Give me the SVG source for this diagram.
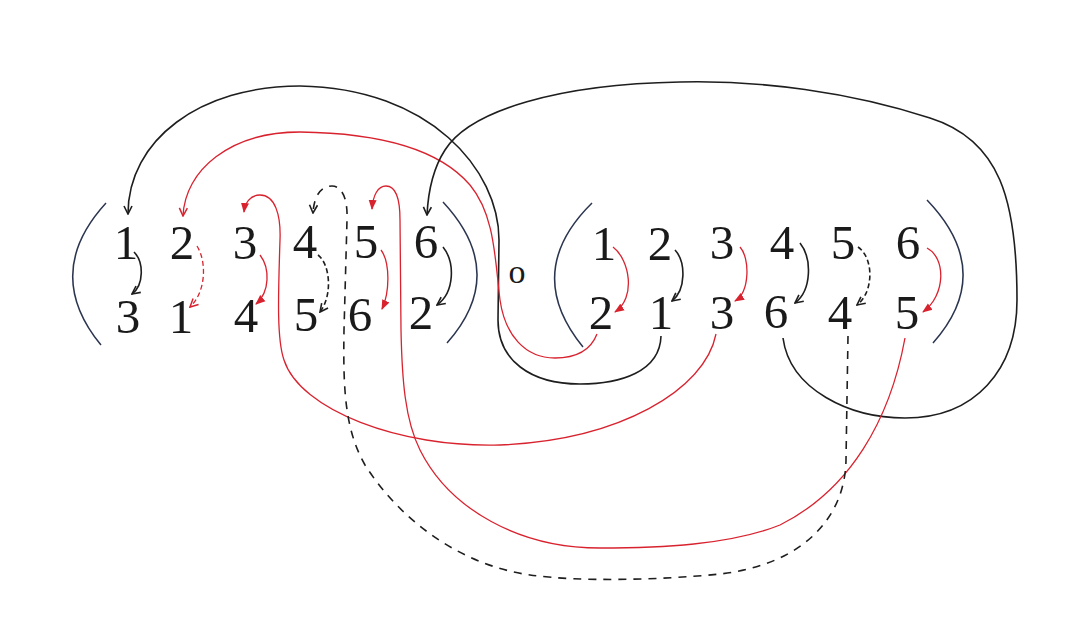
<svg xmlns="http://www.w3.org/2000/svg" width="1071" height="633" viewBox="0 0 1071 633">
<style>
.d{font-family:"Liberation Serif","Times New Roman",serif;font-size:49px;fill:#1a1a1a;text-anchor:middle}
.o{font-family:"Liberation Serif","Times New Roman",serif;font-size:34px;fill:#1a1a1a;text-anchor:middle}
.k{fill:none;stroke:#1e1e1e;stroke-width:1.6}
.r{fill:none;stroke:#d8232f;stroke-width:1.3}
.sd{stroke-dasharray:5 3}
.p{fill:none;stroke:#2b3550;stroke-width:1.5}
</style>
<defs>
<marker id="ak" viewBox="0 0 10 10" refX="9" refY="5" markerWidth="10" markerHeight="10" markerUnits="userSpaceOnUse" orient="auto"><path d="M1,1 L9,5 L1,9" fill="none" stroke="#1e1e1e" stroke-width="1.6"/></marker>
<marker id="aro" viewBox="0 0 10 10" refX="9" refY="5" markerWidth="10" markerHeight="10" markerUnits="userSpaceOnUse" orient="auto"><path d="M1,1 L9,5 L1,9" fill="none" stroke="#d8232f" stroke-width="1.5"/></marker>
<marker id="ar" viewBox="0 0 10 10" refX="9" refY="5" markerWidth="10" markerHeight="10" markerUnits="userSpaceOnUse" orient="auto"><path d="M0,1 L10,5 L0,9 Z" fill="#d8232f"/></marker>
</defs>
<rect width="1071" height="633" fill="#ffffff"/>
<g id="parens">
<path class="p" d="M106,203 Q42,273 101,345"/>
<path class="p" d="M443,202 Q509,273 447,343"/>
<path class="p" d="M592,203 Q522,272 583,347"/>
<path class="p" d="M927,200 Q996,272 933,343"/>
</g>
<g id="left-top">
<g id="L1"><text class="d" x="126" y="259">1</text></g>
<g id="L2"><text class="d" x="182" y="259">2</text></g>
<g id="L3"><text class="d" x="245" y="259">3</text></g>
<g id="L4"><text class="d" x="305" y="258">4</text></g>
<g id="L5"><text class="d" x="366" y="258">5</text></g>
<g id="L6"><text class="d" x="426" y="258">6</text></g>
</g>
<g id="left-bottom">
<g id="LB3"><text class="d" x="128" y="333">3</text></g>
<g id="LB1"><text class="d" x="181" y="333">1</text></g>
<g id="LB4"><text class="d" x="246" y="332">4</text></g>
<g id="LB5"><text class="d" x="306" y="331">5</text></g>
<g id="LB6"><text class="d" x="360" y="331">6</text></g>
<g id="LB2"><text class="d" x="421" y="329">2</text></g>
</g>
<g id="compose"><text class="o" x="517" y="283">o</text></g>
<g id="right-top">
<g id="R1"><text class="d" x="604" y="260">1</text></g>
<g id="R2"><text class="d" x="660" y="260">2</text></g>
<g id="R3"><text class="d" x="722" y="259">3</text></g>
<g id="R4"><text class="d" x="782" y="259">4</text></g>
<g id="R5"><text class="d" x="843" y="259">5</text></g>
<g id="R6"><text class="d" x="908" y="259">6</text></g>
</g>
<g id="right-bottom">
<g id="RB2"><text class="d" x="601" y="329">2</text></g>
<g id="RB1"><text class="d" x="661" y="329">1</text></g>
<g id="RB3"><text class="d" x="722" y="329">3</text></g>
<g id="RB6"><text class="d" x="776" y="328">6</text></g>
<g id="RB4"><text class="d" x="840" y="329">4</text></g>
<g id="RB5"><text class="d" x="907" y="329">5</text></g>
</g>
<g id="connectors">
<path class="k" d="M134,252 C144,262 144,285 132,294" marker-end="url(#ak)"/>
<path class="r sd" d="M197,246 C207,262 206,292 190,307" marker-end="url(#aro)"/>
<path class="r" d="M260,255 C270,268 270,292 256,304" marker-end="url(#ar)"/>
<path class="k sd" d="M318,255 C330,264 333,295 320,312" marker-end="url(#ak)"/>
<path class="r" d="M381,250 C390,262 390,292 382,309" marker-end="url(#ar)"/>
<path class="k" d="M443,247 C455,262 455,292 437,305" marker-end="url(#ak)"/>
<path class="r" d="M613,247 C630,260 636,298 615,312" marker-end="url(#ar)"/>
<path class="k" d="M675,250 C686,262 686,290 672,301" marker-end="url(#ak)"/>
<path class="r" d="M740,247 C750,258 750,292 735,301" marker-end="url(#ar)"/>
<path class="k" d="M800,243 C812,258 812,290 795,303" marker-end="url(#ak)"/>
<path class="k sd" d="M858,247 C874,258 874,292 857,305" marker-end="url(#ak)"/>
<path class="r" d="M927,248 C946,258 946,295 923,312" marker-end="url(#ar)"/>
<path class="k" d="M661,336 C660,372 620,384 580,384 C530,384 498,360 498,320 L499,240 C499,170 430,88 300,86 C200,86 128,140 128,214" marker-end="url(#ak)"/>
<path class="r" d="M597,334 C590,352 575,358 555,358 C525,358 505,335 500,300 C495,260 495,215 470,185 C440,150 380,133 300,132 C230,132 185,170 183,216" marker-end="url(#aro)"/>
<path class="k" d="M783,338 C790,390 850,418 905,418 C975,418 1017,370 1017,300 C1017,200 1000,140 930,118 C850,92 760,80 680,82 C560,84 470,110 445,150 C432,170 428,195 427,215" marker-end="url(#ak)"/>
<path class="r" d="M716,334 C705,390 620,440 500,445 C400,448 300,410 284,360 C277,340 278,300 280,240 C281,215 275,195 260,195 C250,195 245,203 244,212" marker-end="url(#ar)"/>
<path class="r" d="M905,338 C890,420 850,490 780,525 C730,545 660,548 600,548 C520,548 450,510 420,450 C405,420 402,380 401,330 L400,220 C400,198 395,186 386,186 C378,186 373,195 372,209" marker-end="url(#ar)"/>
<path class="k" style="stroke-dasharray:8 7" d="M848,336 L846,460 C845,520 800,565 720,574 C660,580 580,582 530,575 C460,565 400,520 365,465 C345,430 343,390 344,330 L347,220 C348,195 340,186 332,186 C320,186 314,197 313,213" marker-end="url(#ak)"/>
</g>
</svg>
